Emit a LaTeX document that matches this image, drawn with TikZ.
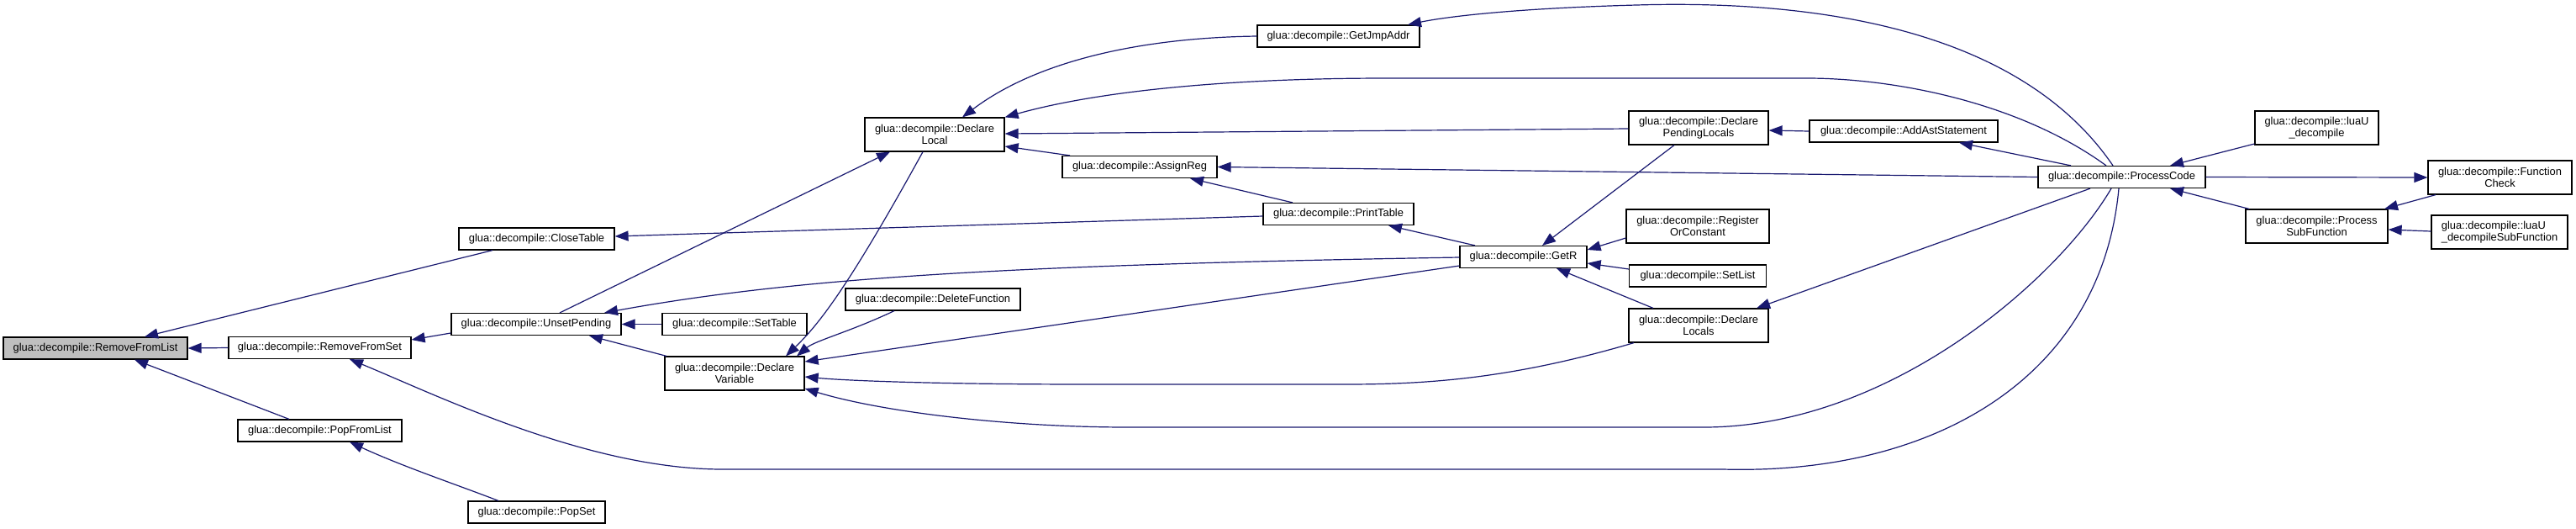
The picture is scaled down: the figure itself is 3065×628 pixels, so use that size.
\documentclass[tikz,border=0pt]{standalone}
\usepackage{fontspec}
\setmainfont{Liberation Sans}
\usetikzlibrary{arrows.meta}
\definecolor{edgecol}{HTML}{191970}
\definecolor{graybox}{HTML}{BFBFBF}
\begin{document}
\begin{tikzpicture}[x=0.5pt,y=-0.5pt,
  box/.style={draw=black, line width=0.6pt, fill=white, inner sep=0pt, minimum height=13pt, font=\fontsize{6.45}{7}\selectfont, align=center},
  two/.style={minimum height=20pt},
  conn/.style={draw=edgecol, line width=0.6pt, -{Triangle[length=8pt,width=6pt]}},
]
\useasboundingbox (0,0) rectangle (3065,628);
\fill[white] (0,0) rectangle (3065,628);

\node[box, fill=graybox, minimum width=109.5pt] (RFL) at (113.5,414) {glua::decompile::RemoveFromList};
\node[box, minimum width=108.5pt] (RFS) at (380.5,413.5) {glua::decompile::RemoveFromSet};
\node[box, minimum width=97.5pt] (PFL) at (380.5,512) {glua::decompile::PopFromList};
\node[box, minimum width=81.5pt] (PS) at (638.5,609) {glua::decompile::PopSet};
\node[box, minimum width=92.5pt] (CT) at (638.5,284) {glua::decompile::CloseTable};
\node[box, minimum width=101pt] (UP) at (638,385.5) {glua::decompile::UnsetPending};
\node[box, minimum width=86pt] (ST) at (874,385.5) {glua::decompile::SetTable};
\node[box, two, minimum width=83pt] (DV) at (874,444) {glua::decompile::Declare\\Variable};
\node[box, minimum width=104pt] (DF) at (1110,356) {glua::decompile::DeleteFunction};
\node[box, two, minimum width=83pt] (DL) at (1112,160) {glua::decompile::Declare\\Local};
\node[box, minimum width=96.5pt] (GJ) at (1592.5,43) {glua::decompile::GetJmpAddr};
\node[box, minimum width=92pt] (AR) at (1356,198.5) {glua::decompile::AssignReg};
\node[box, minimum width=89.5pt] (PT) at (1592.5,254.5) {glua::decompile::PrintTable};
\node[box, minimum width=75.5pt] (GR) at (1812.5,305.5) {glua::decompile::GetR};
\node[box, two, minimum width=83pt] (DPL) at (2021,152) {glua::decompile::Declare\\PendingLocals};
\node[box, two, minimum width=85pt] (RC) at (2020,269) {glua::decompile::Register\\OrConstant};
\node[box, minimum width=81.5pt] (SL) at (2020,328) {glua::decompile::SetList};
\node[box, two, minimum width=83pt] (DLs) at (2021,387) {glua::decompile::Declare\\Locals};
\node[box, minimum width=112pt] (AA) at (2265,156) {glua::decompile::AddAstStatement};
\node[box, minimum width=99.5pt] (PC) at (2524.5,210.5) {glua::decompile::ProcessCode};
\node[box, two, minimum width=73.5pt] (LD) at (2756.5,152) {glua::decompile::luaU\\\_decompile};
\node[box, two, minimum width=84.5pt] (PSF) at (2756.5,269) {glua::decompile::Process\\SubFunction};
\node[box, two, minimum width=85.5pt] (FC) at (2974.5,211) {glua::decompile::Function\\Check};
\node[box, two, minimum width=81pt, align=left] (LDS) at (2974,276) {glua::decompile::luaU\\\_decompileSubFunction};

\draw[conn] (CT.south -| 586,0) -- (RFL.north -| 172,0);
\draw[conn] (RFS.west) -- (RFL.east);
\draw[conn] (PFL.north -| 344,0) -- (RFL.south -| 160,0);
\draw[conn] (PS.north -| 593,0) .. controls (540,575) and (480,555) .. (PFL.south -| 416,0);
\draw[conn] (UP.west |- 0,396) -- (RFS.east |- 0,404);
\draw[conn] (PC.south -| 2521,0) .. controls (2500,450) and (2300,565) .. (2050,558) -- (860,558) .. controls (700,558) and (520,470) .. (RFS.south -| 416,0);
\draw[conn] (PT.west |- 0,257) -- (CT.east |- 0,281);
\draw[conn] (UP.north -| 666,0) -- (DL.south -| 1059,0);
\draw[conn] (GR.west |- 0,306) .. controls (1200,315) and (950,330) .. (UP.north -| 719,0);
\draw[conn] (ST.west) -- (UP.east);
\draw[conn] (DV.north -| 793,0) -- (UP.south -| 701,0);
\draw[conn] (DL.south -| 1098,0) .. controls (1010,340) and (975,385) .. (DV.north -| 935,0);
\draw[conn] (DF.south -| 1064,0) .. controls (1010,395) and (970,405) .. (DV.north -| 948,0);
\draw[conn] (GJ.west) .. controls (1350,45) and (1230,75) .. (DL.north -| 1145,0);
\draw[conn] (PC.north -| 2506,0) .. controls (2400,120) and (2250,93) .. (2150,93) -- (1650,93) .. controls (1450,93) and (1300,110) .. (DL.north east);
\draw[conn] (DPL.west |- 0,153) -- (DL.east |- 0,159);
\draw[conn] (AR.north -| 1273,0) -- (DL.east |- 0,174);
\draw[conn] (PT.north -| 1538,0) -- (AR.south -| 1416,0);
\draw[conn] (PC.west) -- (AR.east);
\draw[conn] (GR.north -| 1755,0) -- (PT.south -| 1652,0);
\draw[conn] (DPL.south -| 1992,0) -- (GR.north -| 1835,0);
\draw[conn] (RC.west |- 0,283) -- (GR.east |- 0,297);
\draw[conn] (SL.west |- 0,320) -- (GR.east |- 0,313);
\draw[conn] (DLs.north -| 1967,0) -- (GR.south -| 1852,0);
\draw[conn] (GR.west |- 0,316) -- (DV.east |- 0,430);
\draw[conn] (DLs.south -| 1944,0) .. controls (1800,450) and (1700,457) .. (1600,457) -- (1300,457) .. controls (1100,457) and (1000,452) .. (DV.east |- 0,448);
\draw[conn] (PC.south -| 2512,0) .. controls (2450,330) and (2250,508) .. (2027,508) -- (1343,508) .. controls (1200,508) and (1050,490) .. (DV.east |- 0,462);
\draw[conn] (PC.south -| 2487,0) -- (DLs.north -| 2090,0);
\draw[conn] (AA.west) -- (DPL.east |- 0,155);
\draw[conn] (PC.north -| 2464,0) -- (AA.south -| 2331,0);
\draw[conn] (PC.north -| 2514,0) .. controls (2400,30) and (2150,0) .. (1947,6) .. controls (1800,10) and (1720,20) .. (GJ.north -| 1675,0);
\draw[conn] (LD.west |- 0,171) -- (PC.north -| 2582,0);
\draw[conn] (PC.east) -- (FC.west |- 0,211);
\draw[conn] (PSF.north -| 2676,0) -- (PC.south -| 2582,0);
\draw[conn] (FC.south -| 2898,0) -- (PSF.north -| 2837,0);
\draw[conn] (LDS.west |- 0,275) -- (PSF.east |- 0,273);
\end{tikzpicture}
\end{document}
